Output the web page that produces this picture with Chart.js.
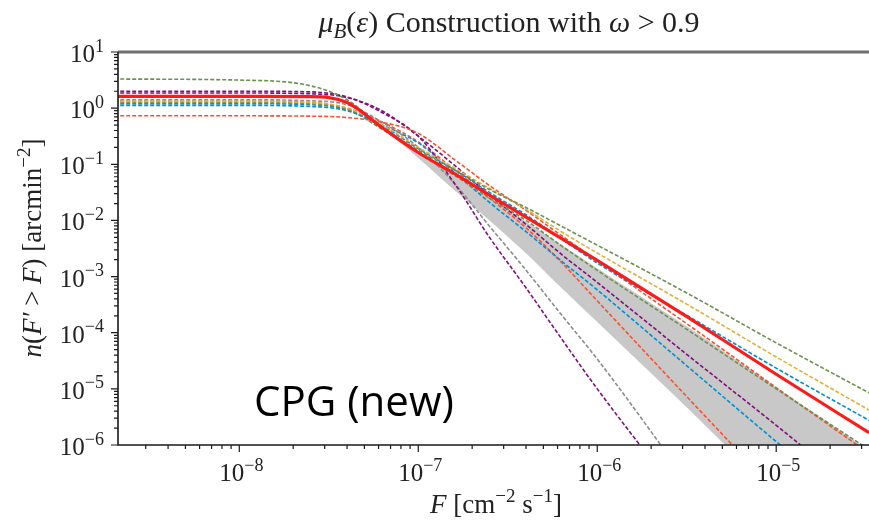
<!DOCTYPE html>
<html>
<head>
<meta charset="utf-8">
<script src="https://cdn.jsdelivr.net/npm/chart.js@4.4.0/dist/chart.umd.min.js"></script>
<style>
  html, body { margin: 0; padding: 0; background: #fff; }
</style>
</head>
<body>
<canvas id="chart" width="869" height="523"></canvas>
<script>
/* flux grid shared by the dashed model curves (cm^-2 s^-1) */
const F_GRID = [2e-9, 1e-8, 2.5e-8, 4e-8, 6.3e-8, 1e-7, 1.6e-7, 2.5e-7, 4e-7, 6.3e-7, 1e-6, 3.2e-6, 1e-5, 3.3e-5];

// n(F' > F) readings per curve, same order as F_GRID
const GREEN_A  = [3.3, 3.16, 2.5, 1.41, 0.45, 0.178, 0.079, 0.0355, 0.017, 7.9e-3, 3.63e-3, 5.0e-4, 6.6e-5, 8.5e-6];
const YELLOW   = [1.32, 1.32, 1.26, 1.0, 0.5, 0.2, 0.085, 0.037, 0.0158, 6.3e-3, 2.63e-3, 3.16e-4, 3.7e-5, 4.2e-6];
const BLUE_A   = [1.12, 1.12, 1.07, 0.9, 0.48, 0.19, 0.079, 0.0316, 0.0126, 4.7e-3, 1.74e-3, 2.0e-4, 2.34e-5, 2.75e-6];
const GREEN_B  = [1.26, 1.26, 1.2, 0.95, 0.417, 0.158, 0.063, 0.025, 0.01, 3.55e-3, 1.29e-3, 1.12e-4, 1e-5, 8.3e-7];
const CORAL_A  = [0.73, 0.73, 0.72, 0.68, 0.56, 0.355, 0.12, 0.0417, 0.0151, 5.4e-3, 1.9e-3, 1.41e-4, 1.05e-5, 7.1e-7];
const PURPLE_A = [2.0, 2.0, 1.95, 1.58, 0.83, 0.316, 0.0447, 5.0e-3, 6.3e-4, 7.9e-5, 1e-5, 8e-8, null, null];
const GRAY     = [1.41, 1.41, 1.35, 1.15, 0.56, 0.2, 0.0447, 7.9e-3, 1.3e-3, 2.1e-4, 3.4e-5, 2.2e-7, null, null];
const PURPLE_B = [1.86, 1.86, 1.8, 1.55, 0.89, 0.316, 0.095, 0.0282, 8.5e-3, 2.5e-3, 7.9e-4, 4e-5, 2.24e-6, 1e-7];
const BLUE_B   = [1.2, 1.2, 1.15, 0.95, 0.5, 0.24, 0.0708, 0.0209, 6.3e-3, 1.9e-3, 5.8e-4, 2.5e-5, 1.15e-6, 5e-8];
const CORAL_B  = [1.32, 1.32, 1.26, 1.0, 0.56, 0.25, 0.079, 0.025, 7.4e-3, 1.8e-3, 3.7e-4, 7e-6, 1.5e-7, null];

// constructed mu_B curve (thick red)
const RED = [1.62, 1.62, 1.6, 1.26, 0.447, 0.162, 0.0676, 0.0282, 0.0115, 4.8e-3, 1.95e-3, 1.9e-4, 1.82e-5, 1.66e-6];

// shaded envelope
const BAND_F  = [6.3e-8, 1e-7, 1.6e-7, 2.5e-7, 4e-7, 6.3e-7, 1e-6, 3.2e-6, 1e-5, 3.3e-5];
const BAND_HI = [0.447, 0.158, 0.063, 0.025, 9.5e-3, 3.7e-3, 1.41e-3, 1.26e-4, 1.07e-5, 8e-7];
const BAND_LO = [0.447, 0.13, 0.034, 0.01, 2.6e-3, 6.3e-4, 1.55e-4, 4.5e-6, 1.26e-7, 3.2e-9];

// tick labels (decades)
const X_DECADES = [1e-8, 1e-7, 1e-6, 1e-5];
const X_TICK_EXP = ["\u22128", "\u22127", "\u22126", "\u22125"];
const Y_DECADES = [10, 1, 0.1, 0.01, 1e-3, 1e-4, 1e-5, 1e-6];
const Y_TICK_EXP = ["1", "0", "\u22121", "\u22122", "\u22123", "\u22124", "\u22125", "\u22126"];

const SERIF = '"Liberation Serif", "DejaVu Serif", serif';

function toPoints(xs, ys) {
  return xs.map((x, i) => ({ x: x, y: ys[i] }));
}

function dashed(values, color) {
  return {
    data: toPoints(F_GRID, values),
    borderColor: color,
    borderWidth: 1.6,
    borderDash: [4, 2],
    cubicInterpolationMode: "monotone",
    fill: false,
    order: 2,
  };
}

function fontFor(kind, size) {
  const small = kind === "sup" || kind === "sub" || kind === "isub";
  const s = small ? Math.round(size * 0.7) : size;
  const it = kind === "i" || kind === "isub" ? "italic " : "";
  return it + s + "px " + SERIF;
}

// parts: [[text, kind], ...], y is the baseline
function drawRich(ctx, parts, x, y, size, align) {
  let total = 0;
  parts.forEach((p) => { ctx.font = fontFor(p[1], size); total += ctx.measureText(p[0]).width; });
  let cx = align === "center" ? x - total / 2 : align === "right" ? x - total : x;
  ctx.textAlign = "left";
  ctx.textBaseline = "alphabetic";
  parts.forEach((p) => {
    ctx.font = fontFor(p[1], size);
    let dy = 0;
    if (p[1] === "sup") dy = -0.42 * size;
    if (p[1] === "sub" || p[1] === "isub") dy = 0.2 * size;
    ctx.fillText(p[0], cx, y + dy);
    cx += ctx.measureText(p[0]).width;
  });
}

function isDecade(v) {
  const l = Math.log10(v);
  return Math.abs(l - Math.round(l)) < 1e-6;
}
function isWholeSignificand(v) {
  const s = v / Math.pow(10, Math.floor(Math.log10(v) + 1e-9));
  return Math.abs(s - Math.round(s)) < 1e-6;
}

const axesPlugin = {
  id: "axesPlugin",
  afterDraw(chart) {
    const ctx = chart.ctx;
    const a = chart.chartArea;
    const xs = chart.scales.x;
    const ys = chart.scales.y;
    ctx.save();

    // top frame
    ctx.strokeStyle = "#6f6f6f";
    ctx.lineWidth = 3;
    ctx.beginPath();
    ctx.moveTo(a.left, a.top);
    ctx.lineTo(a.right, a.top);
    ctx.stroke();

    // left + bottom spines
    ctx.strokeStyle = "#1a1a1a";
    ctx.lineWidth = 1.6;
    ctx.beginPath();
    ctx.moveTo(a.left, a.top);
    ctx.lineTo(a.left, a.bottom);
    ctx.lineTo(a.right, a.bottom);
    ctx.stroke();

    // tick marks from the library's log ticks
    ctx.lineWidth = 1.2;
    ctx.beginPath();
    ys.ticks.forEach((t) => {
      if (!isWholeSignificand(t.value)) return;
      const py = ys.getPixelForValue(t.value);
      const len = isDecade(t.value) ? 7 : 4;
      ctx.moveTo(a.left - len, py);
      ctx.lineTo(a.left, py);
    });
    xs.ticks.forEach((t) => {
      if (!isWholeSignificand(t.value)) return;
      const px = xs.getPixelForValue(t.value);
      if (px < a.left + 1) return;
      const len = isDecade(t.value) ? 7 : 4;
      ctx.moveTo(px, a.bottom);
      ctx.lineTo(px, a.bottom + len);
    });
    ctx.stroke();

    // tick labels
    ctx.fillStyle = "#222";
    Y_DECADES.forEach((v, i) => {
      const py = ys.getPixelForValue(v);
      drawRich(ctx, [["10", ""], [Y_TICK_EXP[i], "sup"]], 104, py + 10, 25, "right");
    });
    X_DECADES.forEach((v, i) => {
      const px = xs.getPixelForValue(v);
      drawRich(ctx, [["10", ""], [X_TICK_EXP[i], "sup"]], px + 2, a.bottom + 36, 25, "center");
    });

    // axis titles
    drawRich(ctx, [["F", "i"], [" [cm", ""], ["\u22122", "sup"], [" s", ""], ["\u22121", "sup"], ["]", ""]],
      496, 513, 27, "center");
    ctx.save();
    ctx.translate(41, 248);
    ctx.rotate(-Math.PI / 2);
    drawRich(ctx, [["n", "i"], ["(", ""], ["F\u2032", "i"], [" > ", ""], ["F", "i"], [") [arcmin", ""], ["\u22122", "sup"], ["]", ""]],
      0, 0, 27, "center");
    ctx.restore();

    // chart title
    drawRich(ctx, [["\u03bc", "i"], ["B", "isub"], ["(", ""], ["\u03b5", "i"], [") Construction with ", ""], ["\u03c9", "i"], [" > 0.9", ""]],
      509, 32, 30, "center");

    // slide annotation
    ctx.fillStyle = "#000";
    ctx.font = '42px "Open Sans", sans-serif';
    ctx.textAlign = "left";
    ctx.textBaseline = "alphabetic";
    ctx.fillText("CPG (new)", 254, 416);

    ctx.restore();
  },
};

new Chart(document.getElementById("chart"), {
  type: "line",
  data: {
    datasets: [
      {
        data: toPoints(F_GRID, RED),
        borderColor: "#ff1a1a",
        borderWidth: 3.2,
        cubicInterpolationMode: "monotone",
        fill: false,
        order: 0,
      },
      dashed(GREEN_A, "#6d904f"),
      dashed(YELLOW, "#e5ae38"),
      dashed(BLUE_A, "#008fd5"),
      dashed(GREEN_B, "#6d904f"),
      dashed(CORAL_A, "#fc4f30"),
      dashed(PURPLE_A, "#810f7c"),
      dashed(GRAY, "#8b8b8b"),
      dashed(PURPLE_B, "#810f7c"),
      dashed(BLUE_B, "#008fd5"),
      dashed(CORAL_B, "#fc4f30"),
      {
        data: toPoints(BAND_F, BAND_HI),
        borderWidth: 0,
        borderColor: "rgba(0,0,0,0)",
        cubicInterpolationMode: "monotone",
        fill: false,
        order: 20,
      },
      {
        data: toPoints(BAND_F, BAND_LO),
        borderWidth: 0,
        borderColor: "rgba(0,0,0,0)",
        backgroundColor: "#c8c8c8",
        cubicInterpolationMode: "monotone",
        fill: "-1",
        order: 20,
      },
    ],
  },
  options: {
    responsive: false,
    animation: false,
    layout: { padding: { left: 118, top: 52, right: 0, bottom: 78 } },
    elements: { point: { radius: 0 } },
    plugins: {
      legend: { display: false },
      tooltip: { enabled: false },
      title: { display: false },
    },
    scales: {
      x: {
        type: "logarithmic",
        min: 2.1e-9,
        max: 3.3e-5,
        ticks: { display: false },
        grid: { display: false, drawTicks: false },
        border: { display: false },
      },
      y: {
        type: "logarithmic",
        min: 1e-6,
        max: 10,
        ticks: { display: false },
        grid: { display: false, drawTicks: false },
        border: { display: false },
      },
    },
  },
  plugins: [axesPlugin],
});
</script>
</body>
</html>
